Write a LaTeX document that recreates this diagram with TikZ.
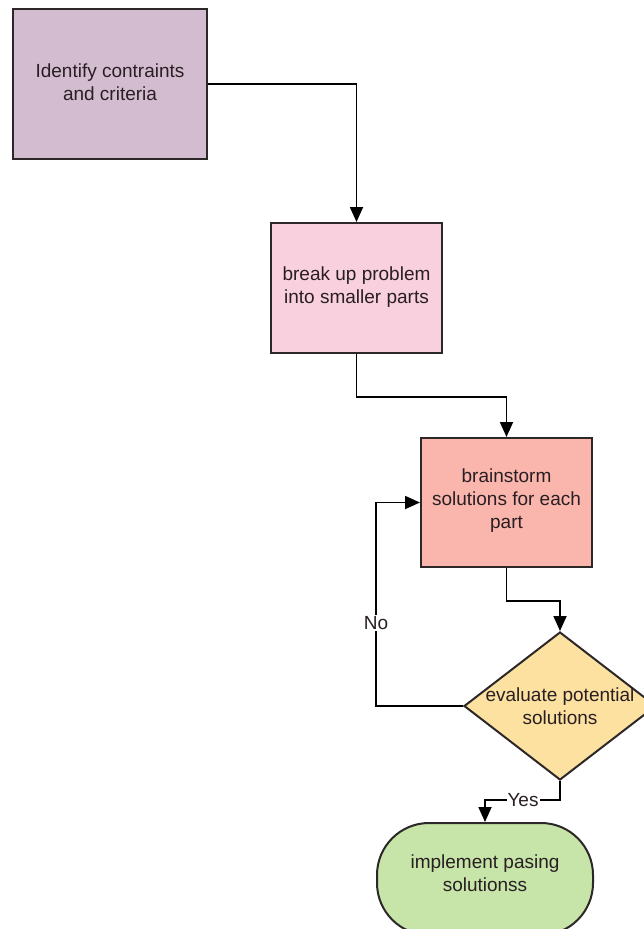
\documentclass[tikz,border=0pt]{standalone}
\usepackage{fontspec}
\setmainfont{Liberation Sans}
\usetikzlibrary{shapes.geometric,arrows.meta}
\definecolor{cpurple}{RGB}{212,188,208}
\definecolor{cpink}{RGB}{249,208,222}
\definecolor{csalmon}{RGB}{250,182,172}
\definecolor{cyellow}{RGB}{253,225,160}
\definecolor{cgreen}{RGB}{199,229,168}
\definecolor{cborder}{RGB}{45,40,40}
\definecolor{ctext}{RGB}{40,30,35}
\tikzset{
  box/.style={draw=cborder, line width=2pt, inner sep=0pt, align=center, text=ctext,
    font=\fontsize{19}{23}\selectfont},
  conn/.style={draw=black, line width=1.8pt, -{Triangle[length=15pt,width=13pt]}},
  lbl/.style={fill=white, inner sep=1pt, font=\fontsize{19}{23}\selectfont, text=ctext},
  txt/.style={align=center, text=ctext, font=\fontsize{19}{23}\selectfont, inner sep=0pt}
}
\begin{document}
\begin{tikzpicture}[x=1pt,y=-1pt]
\clip (0,0) rectangle (644,929);
\fill[white] (0,0) rectangle (644,929);
\node[box, fill=cpurple, minimum width=194pt, minimum height=150pt] (A) at (110,84) {};
\node[txt] at (110,82) {Identify contraints\\and criteria};
\node[box, fill=cpink, minimum width=171pt, minimum height=130pt] (B) at (356.5,288) {};
\node[txt] at (356.5,287) {break up problem\\into smaller parts};
\node[box, fill=csalmon, minimum width=171pt, minimum height=129pt] (C) at (506.5,502.5) {};
\node[txt] at (506.5,501) {brainstorm\\solutions for each\\part};
\node[box, diamond, fill=cyellow, minimum width=192pt, minimum height=148pt] (D) at (560,706) {};
\node[txt] at (560,706) {evaluate potential\\solutions};
\node[box, fill=cgreen, minimum width=216pt, minimum height=112pt, rounded corners=52pt] (E) at (485,879) {};
\node[txt] at (485,873) {implement pasing\\solutionss};
\draw[conn] (A.east) -| (B.north);
\draw[conn] (B.south) -- ++(0,43) -| (C.north);
\draw[conn] (C.south) -- ++(0,33) -| (D.north);
\coordinate (nl) at (376,706);
\draw[conn] (D.west) -- (nl) |- (C.west);
\node[lbl] (no) at (376,623) {No};
\coordinate (yl) at (560,800);
\draw[conn] (D.south) -- (yl) -| (E.north);
\node[lbl] (yes) at (523,800) {Yes};
\end{tikzpicture}
\end{document}
